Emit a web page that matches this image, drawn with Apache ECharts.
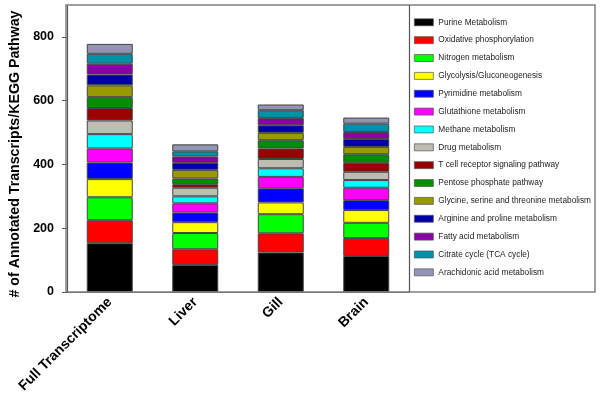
<!DOCTYPE html>
<html>
<head>
<meta charset="utf-8">
<script src="https://cdn.jsdelivr.net/npm/echarts@6/dist/echarts.min.js"></script>
<style>
html,body{margin:0;padding:0;background:#fff;}
#chart{width:600px;height:404px;}
</style>
</head>
<body>
<div id="chart"></div>
<script>
var categories = ["Full Transcriptome", "Liver", "Gill", "Brain"];
var yTicks = [0, 200, 400, 600, 800];
var yTitle = "# of Annotated Transcripts/KEGG Pathway";

var purine      = [153, 85, 124, 113];
var oxidative   = [72, 49, 60, 56];
var nitrogen    = [72, 51, 60, 48];
var glycolysis  = [57, 34, 37, 40];
var pyrimidine  = [52, 30, 44, 31];
var glutathione = [44, 29, 36, 39];
var methane     = [45, 22, 27, 24];
var drug        = [43, 27, 29, 26];
var tcell       = [39, 11, 33, 28];
var pentose     = [34, 18, 26, 27];
var glycine     = [37, 27, 23, 23];
var arginine    = [34, 22, 24, 25];
var fatty       = [34, 20, 23, 22];
var citrate     = [31, 16, 24, 26];
var arachidonic = [31, 22, 18, 19];

var seriesDefs = [
  ["Purine Metabolism", purine, "#000000"],
  ["Oxidative phosphorylation", oxidative, "#ff0000"],
  ["Nitrogen metabolism", nitrogen, "#00ff00"],
  ["Glycolysis/Gluconeogenesis", glycolysis, "#ffff00"],
  ["Pyrimidine metabolism", pyrimidine, "#0000ff"],
  ["Glutathione metabolism", glutathione, "#ff00ff"],
  ["Methane metabolism", methane, "#00ffff"],
  ["Drug metabolism", drug, "#bdbdb2"],
  ["T cell receptor signaling pathway", tcell, "#990000"],
  ["Pentose phosphate pathway", pentose, "#008f00"],
  ["Glycine, serine and threonine metabolism", glycine, "#999900"],
  ["Arginine and proline metabolism", arginine, "#0000aa"],
  ["Fatty acid metabolism", fatty, "#8a00a8"],
  ["Citrate cycle (TCA cycle)", citrate, "#0090a8"],
  ["Arachidonic acid metabolism", arachidonic, "#9494b4"]
];

var chart = echarts.init(document.getElementById('chart'), null, {renderer: 'canvas'});
var option = {
  animation: false,
  backgroundColor: '#ffffff',
  textStyle: {fontFamily: 'Liberation Sans, Arial, sans-serif'},
  grid: {left: 66, right: 191, top: 5, bottom: 112, show: false},
  graphic: [
    {type: 'rect', shape: {x: 66, y: 5, width: 529, height: 287},
     style: {fill: 'none', stroke: '#808080', lineWidth: 1.5}, z: 100, silent: true},
    {type: 'line', shape: {x1: 409.5, y1: 5, x2: 409.5, y2: 292},
     style: {stroke: '#555', lineWidth: 1.2}, z: 100, silent: true}
  ],
  legend: {
    orient: 'vertical',
    left: 414,
    top: 18.3,
    padding: 0,
    itemWidth: 19,
    itemHeight: 7,
    itemGap: 9.86,
    icon: 'rect',
    selectedMode: false,
    itemStyle: {borderColor: '#555', borderWidth: 0.7},
    textStyle: {fontSize: 8.3, color: '#222', fontFamily: 'Liberation Sans, Arial, sans-serif'},
    data: seriesDefs.map(function (d) { return d[0]; })
  },
  xAxis: {
    type: 'category',
    data: categories,
    axisLine: {lineStyle: {color: '#555', width: 1.2}},
    axisTick: {alignWithLabel: true, length: 5, lineStyle: {color: '#555'}},
    axisLabel: {rotate: 45, fontSize: 14, fontWeight: 'bold', color: '#000', margin: 8, interval: 0}
  },
  yAxis: {
    type: 'value',
    min: 0,
    max: 900,
    interval: 200,
    name: yTitle,
    nameLocation: 'middle',
    nameGap: 45,
    nameTextStyle: {fontSize: 14.2, fontWeight: 'bold', color: '#000', padding: [0, 11, 0, 0]},
    axisLine: {show: true, lineStyle: {color: '#555', width: 1.2}},
    axisTick: {show: true, length: 5, customValues: yTicks, lineStyle: {color: '#555'}},
    axisLabel: {customValues: yTicks, fontSize: 12.5, fontWeight: 'bold', color: '#000', margin: 13},
    splitLine: {show: false}
  },
  series: seriesDefs.map(function (d) {
    return {
      name: d[0],
      type: 'bar',
      stack: 'total',
      data: d[1],
      barWidth: 46,
      itemStyle: {color: d[2], borderColor: '#444', borderWidth: 1}
    };
  })
};
chart.setOption(option);
</script>
</body>
</html>
